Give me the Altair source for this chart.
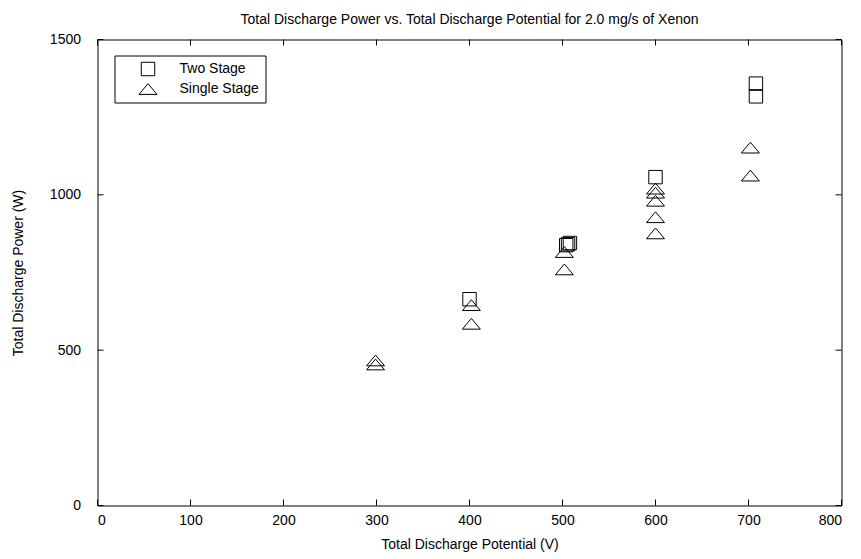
import altair as alt
import pandas as pd

FONT = "Liberation Sans"
W, H = 744, 466

series_names = ["Two Stage", "Single Stage"]

two_x = [400, 504, 506, 508, 600, 708, 708]
two_y = [664, 838, 841, 845, 1057, 1358, 1317]

single_x = [299, 299, 402, 402, 502, 502, 600, 600, 600, 600, 600, 702, 702]
single_y = [467, 454, 645, 585, 816, 760, 1020, 1007, 981, 928, 876, 1152, 1062]

x_ticks = [0, 100, 200, 300, 400, 500, 600, 700, 800]
y_ticks = [0, 500, 1000, 1500]

df = pd.concat([
    pd.DataFrame({"x": two_x, "y": two_y, "series": series_names[0]}),
    pd.DataFrame({"x": single_x, "y": single_y, "series": series_names[1]}),
])

TRI = "M0,-0.6L1,0.6L-1,0.6Z"

xscale = alt.Scale(domain=[0, 800], nice=False, zero=False)
yscale = alt.Scale(domain=[0, 1500], nice=False, zero=False)

xaxis = alt.Axis(values=x_ticks, format="d", title="Total Discharge Potential (V)",
                 labelPadding=8, titlePadding=10)
yaxis = alt.Axis(values=y_ticks, format="d", title="Total Discharge Power (W)",
                 labelPadding=17, titlePadding=24)

leg = alt.Legend(
    title=None, orient="none", legendX=17, legendY=16,
    strokeColor="black", fillColor="white", padding=6,
    labelFont=FONT, labelFontSize=14, labelColor="black",
    symbolStrokeColor="black", symbolStrokeWidth=1, symbolFillColor="white",
    rowPadding=1, symbolOffset=18, labelOffset=22,
)

points = alt.Chart(df).mark_point(filled=False, color="black", strokeWidth=1, opacity=1).encode(
    x=alt.X("x:Q", scale=xscale, axis=xaxis),
    y=alt.Y("y:Q", scale=yscale, axis=yaxis),
    shape=alt.Shape("series:N", scale=alt.Scale(domain=series_names, range=["square", TRI]), legend=leg),
    size=alt.Size("series:N", scale=alt.Scale(domain=series_names, range=[180, 324]), legend=leg),
)

xt = pd.DataFrame({"x": x_ticks})
yt = pd.DataFrame({"y": y_ticks})

tick_bottom = alt.Chart(xt).mark_rule(color="black", strokeWidth=1).encode(
    x=alt.X("x:Q", scale=xscale, axis=xaxis), y=alt.value(H), y2=alt.value(H - 6))
tick_top = alt.Chart(xt).mark_rule(color="black", strokeWidth=1).encode(
    x=alt.X("x:Q", scale=xscale, axis=xaxis), y=alt.value(0), y2=alt.value(6))
tick_left = alt.Chart(yt).mark_rule(color="black", strokeWidth=1).encode(
    y=alt.Y("y:Q", scale=yscale, axis=yaxis), x=alt.value(0), x2=alt.value(6))
tick_right = alt.Chart(yt).mark_rule(color="black", strokeWidth=1).encode(
    y=alt.Y("y:Q", scale=yscale, axis=yaxis), x=alt.value(W), x2=alt.value(W - 6))

chart = alt.layer(points, tick_bottom, tick_top, tick_left, tick_right).properties(
    width=W, height=H,
    background="white",
    title=alt.Title("Total Discharge Power vs. Total Discharge Potential for 2.0 mg/s of Xenon",
                    font=FONT, fontSize=14, fontWeight="normal", color="black",
                    anchor="middle", offset=6),
    autosize=alt.AutoSizeParams(type="none"),
    padding={"left": 89.5, "top": 31.5, "right": 5, "bottom": 46.5},
).configure_view(
    stroke="black", strokeWidth=1
).configure_axis(
    labelFont=FONT, labelFontSize=14, labelColor="black",
    titleFont=FONT, titleFontSize=14, titleFontWeight="normal", titleColor="black",
    domain=False, ticks=False, tickSize=0, grid=False,
)

chart.save("out.html", embed_options={"renderer": "svg", "actions": False})
